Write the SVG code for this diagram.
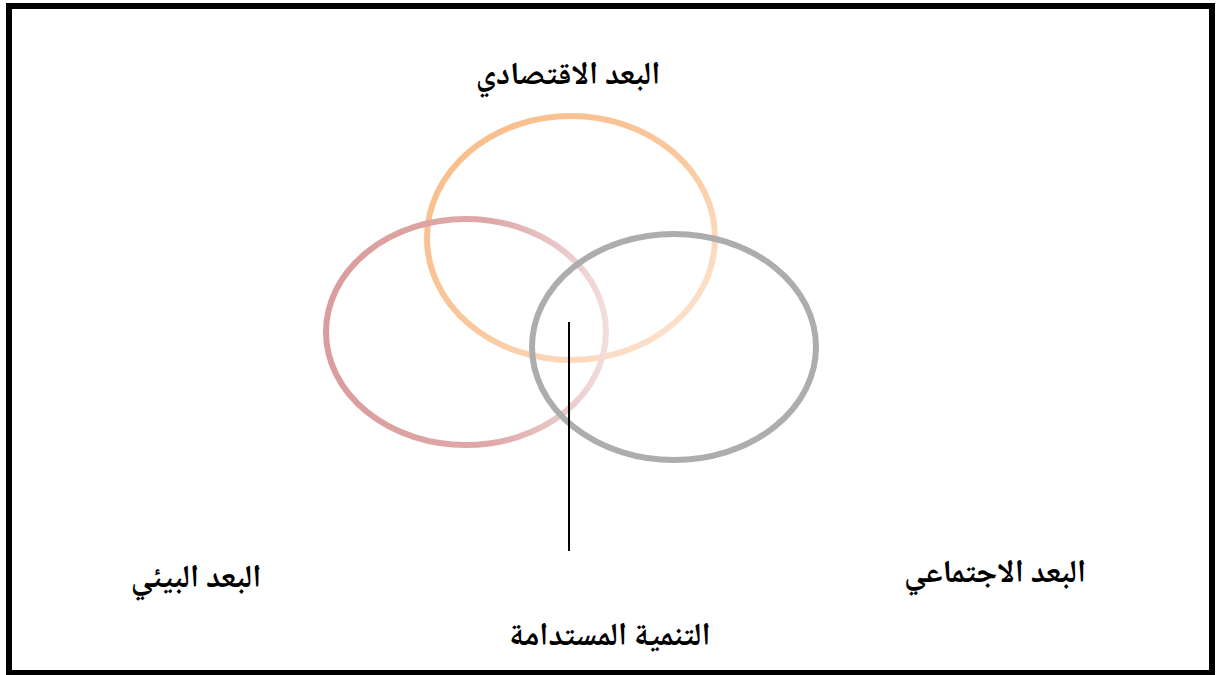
<svg xmlns="http://www.w3.org/2000/svg" width="1216" height="675" viewBox="0 0 1216 675">
<style>
.lbl{font-family:"Noto Naskh Arabic","DejaVu Sans","Noto Sans",sans-serif;font-weight:bold;font-size:32px;fill:#000;text-anchor:middle;direction:rtl}
.ring{fill:none;stroke-width:6}
</style>
<defs>
<linearGradient id="gOrange" x1="0" y1="0" x2="1" y2="1">
<stop offset="0" stop-color="#F9BC88"/>
<stop offset="0.5" stop-color="#FAC79C"/>
<stop offset="1" stop-color="#FDE9DA"/>
</linearGradient>
<linearGradient id="gRed" x1="0" y1="0" x2="1" y2="0">
<stop offset="0" stop-color="#DA9C9C"/>
<stop offset="0.6" stop-color="#DFA9A9"/>
<stop offset="1" stop-color="#F2DDDD"/>
</linearGradient>
</defs>
<rect x="9" y="6" width="1203" height="667" fill="#fff" stroke="#000" stroke-width="6"/>
<g id="economic-ring"><ellipse class="ring" cx="571" cy="238" rx="144" ry="122" stroke="url(#gOrange)"/></g>
<g id="environment-ring"><ellipse class="ring" cx="466" cy="332" rx="140" ry="113" stroke="url(#gRed)"/></g>
<g id="social-ring"><ellipse class="ring" cx="674" cy="347" rx="142" ry="113" stroke="#ADADAD"/></g>
<g id="connectors"><line x1="569" y1="322" x2="569" y2="551" stroke="#000" stroke-width="2"/></g>
<g id="economic"><text class="lbl" x="568" y="84">البعد الاقتصادي</text></g>
<g id="environment"><text class="lbl" x="196" y="587">البعد البيئي</text></g>
<g id="social"><text class="lbl" x="995" y="582">البعد الاجتماعي</text></g>
<g id="sustainable"><text class="lbl" x="610" y="645">التنمية المستدامة</text></g>
</svg>
